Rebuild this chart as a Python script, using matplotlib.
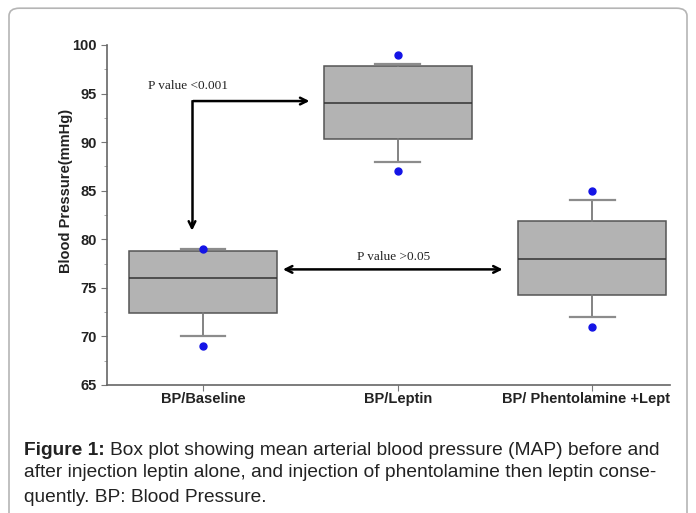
import matplotlib.pyplot as plt
from matplotlib.patches import FancyBboxPatch
from matplotlib.transforms import Bbox, TransformedBbox, blended_transform_factory

plt.rcParams["font.family"] = ["Liberation Sans", "DejaVu Sans"]

# values
groups = ["BP/Baseline", "BP/Leptin", "BP/ Phentolamine +Leptin"]
q1 = [72.4, 90.3, 74.3]
median = [76, 94, 78]
q3 = [78.8, 97.8, 81.9]
whisker_low = [70, 88, 72]
whisker_high = [79, 98, 84]
outliers = [[69, 79], [87, 99], [71, 85]]

fig = plt.figure(figsize=(6.96, 5.13), dpi=100)

# rounded frame of the figure panel
frame = FancyBboxPatch((9 / 696, -0.05), 678 / 696, 1.034, transform=fig.transFigure,
                       boxstyle="round,pad=0,rounding_size=0.015", fc="white",
                       ec="#b5b5b5", lw=1.2, zorder=-5)
fig.patches.append(frame)

ax = fig.add_axes([107 / 696, 1 - 385 / 513, 563 / 696, 340 / 513])
ax.patch.set_alpha(0)

stats = []
for i in range(len(groups)):
    stats.append(dict(med=median[i], q1=q1[i], q3=q3[i], whislo=whisker_low[i],
                      whishi=whisker_high[i], fliers=outliers[i]))

ax.bxp(stats, positions=[1, 2, 3], widths=0.76, capwidths=0.23, patch_artist=True,
       boxprops=dict(facecolor="#b3b3b3", edgecolor="#555555", linewidth=1.1),
       medianprops=dict(color="#333333", linewidth=1.1),
       whiskerprops=dict(color="#7a7a7a", linewidth=1.3),
       capprops=dict(color="#8c8c8c", linewidth=1.6),
       flierprops=dict(marker="o", markerfacecolor="#1414e6", markeredgecolor="#1414e6",
                       markersize=5))

ax.set_xlim(0.506, 3.40)
ax.set_ylim(65, 100)
ax.set_yticks([65, 70, 75, 80, 85, 90, 95, 100])
ax.set_yticks([67.5, 72.5, 77.5, 82.5, 87.5, 92.5, 97.5], minor=True)
ax.set_xticks([1, 2, 3])
ax.set_xticklabels([])
ax.tick_params(axis="y", labelsize=10.5, colors="#777777", labelcolor="#222222", length=4)
ax.tick_params(axis="y", which="minor", colors="#999999", length=2)
ax.tick_params(axis="x", colors="#777777", length=4)
for lab in ax.get_yticklabels():
    lab.set_fontweight("bold")
for s in ["top", "right"]:
    ax.spines[s].set_visible(False)
for s in ["left", "bottom"]:
    ax.spines[s].set_color("#666666")
    ax.spines[s].set_linewidth(1.2)

ax.set_ylabel("Blood Pressure(mmHg)", fontsize=10.5, fontweight="bold", color="#222222")
ax.yaxis.set_label_coords(-0.061, 0.57)

# category labels, the last one is cut by the image edge
clip = TransformedBbox(Bbox([[0, 0], [670 / 696, 1]]), fig.transFigure)
trans = blended_transform_factory(ax.transData, ax.transAxes)
for i, g in enumerate(groups):
    t = ax.text(i + 1, -0.042, g, transform=trans, ha="center", va="center",
                fontsize=10.5, fontweight="bold", color="#222222", clip_on=True)
    t.set_clip_box(clip)

# significance arrows
arrow = dict(arrowstyle="->", color="black", lw=1.8, mutation_scale=12)
ax.plot([0.943, 0.943], [94.23, 81.5], color="black", lw=1.8)
ax.annotate("", xy=(0.943, 80.6), xytext=(0.943, 82), arrowprops=arrow)
ax.annotate("", xy=(1.561, 94.23), xytext=(0.935, 94.23), arrowprops=arrow)
ax.annotate("", xy=(2.554, 76.9), xytext=(1.396, 76.9),
            arrowprops=dict(arrowstyle="<->", color="black", lw=1.8, mutation_scale=12))
ax.text(0.716, 95.8, "P value <0.001", family="Liberation Serif", fontsize=9.5,
        color="#222222", va="center")
ax.text(1.98, 78.2, "P value >0.05", family="Liberation Serif", fontsize=9.5,
        color="#222222", va="center", ha="center")

caption = ("after injection leptin alone, and injection of phentolamine then leptin conse-\n"
           "quently. BP: Blood Pressure.")
head = fig.text(24 / 696, 1 - 455 / 513, "Figure 1:", fontsize=13.8,
                fontweight="bold", color="#222222", va="baseline")
ax.annotate("Box plot showing mean arterial blood pressure (MAP) before and",
            xy=(1, 0), xycoords=head, xytext=(4, 0), textcoords="offset points",
            va="bottom", fontsize=13.8, color="#222222", annotation_clip=False)
fig.text(24 / 696, 1 - 464 / 513, caption, fontsize=13.8,
         color="#222222", va="top", linespacing=1.58)

fig.savefig("out.png", dpi=100)
